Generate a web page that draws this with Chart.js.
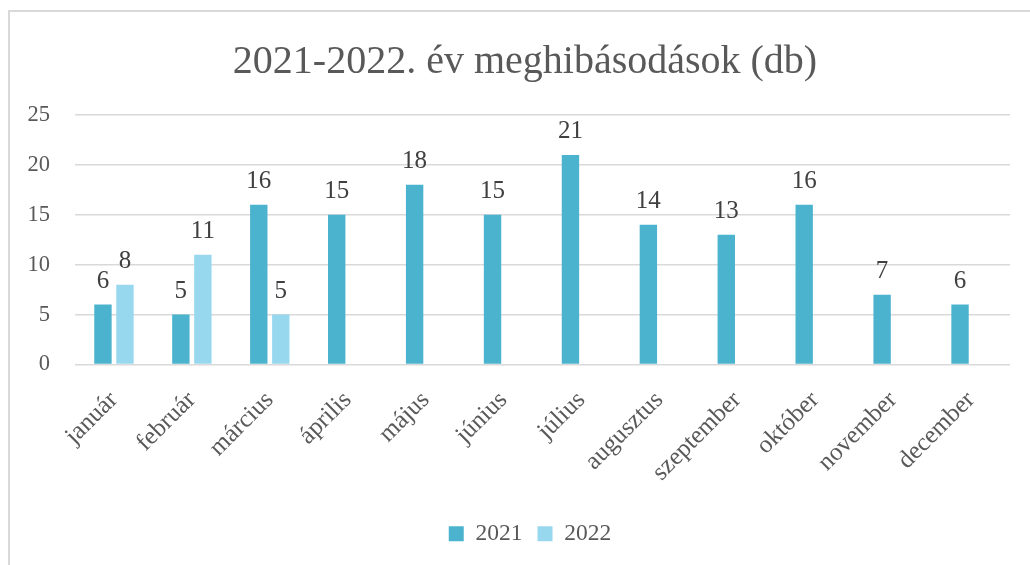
<!DOCTYPE html>
<html>
<head>
<meta charset="utf-8">
<script src="https://cdn.jsdelivr.net/npm/chart.js@4.4.0/dist/chart.umd.min.js"></script>
<style>
  html, body { margin: 0; padding: 0; background: #ffffff; }
  body { width: 1030px; height: 565px; position: relative; overflow: hidden; }
  #frame { position: absolute; left: 8px; top: 10px; width: 1040px; height: 600px;
           border-left: 2px solid #d9d9d9; border-top: 2px solid #d9d9d9; box-sizing: border-box; }
  canvas { position: absolute; left: 0; top: 0; }
</style>
</head>
<body>
<div id="frame"></div>
<canvas id="c" width="1030" height="565"></canvas>
<script>
const categories = ['január', 'február', 'március', 'április', 'május', 'június', 'július', 'augusztus', 'szeptember', 'október', 'november', 'december'];
const series2021 = [6, 5, 16, 15, 18, 15, 21, 14, 13, 16, 7, 6];
const series2022 = [8, 11, 5, null, null, null, null, null, null, null, null, null];
const seriesNames = ['2021', '2022'];
const yTicks = [0, 5, 10, 15, 20, 25];
const titleText = '2021-2022. év meghibásodások (db)';

const FONT = "'Liberation Serif', 'Times New Roman', serif";
const TEXT = '#595959';

const valueLabels = {
  id: 'valueLabels',
  afterDatasetsDraw(chart) {
    const ctx = chart.ctx;
    ctx.save();
    ctx.font = "25px " + FONT;
    ctx.fillStyle = '#404040';
    ctx.textAlign = 'center';
    ctx.textBaseline = 'alphabetic';
    chart.data.datasets.forEach((ds, di) => {
      const meta = chart.getDatasetMeta(di);
      meta.data.forEach((bar, i) => {
        const v = ds.data[i];
        if (v === null || v === undefined) return;
        ctx.fillText(String(v), bar.x, bar.y - 17);
      });
    });
    ctx.restore();
  }
};

// centre title and legend on the outer frame rather than the canvas
const recenter = {
  id: 'recenter',
  afterLayout(chart) {
    if (chart.titleBlock) { chart.titleBlock.left = 40; chart.titleBlock.right = 1010; }
    if (chart.legend) { chart.legend.left = 50; chart.legend.right = 1010; }
  }
};

new Chart(document.getElementById('c'), {
  type: 'bar',
  data: {
    labels: categories,
    datasets: [
      { label: seriesNames[0], data: series2021, backgroundColor: '#4bb3ce',
        categoryPercentage: 0.565, barPercentage: 0.79 },
      { label: seriesNames[1], data: series2022, backgroundColor: '#98d8ef',
        categoryPercentage: 0.565, barPercentage: 0.79 }
    ]
  },
  options: {
    responsive: false,
    animation: false,
    devicePixelRatio: 1,
    layout: { padding: { left: 0, right: 20, top: 0, bottom: 9.5 } },
    plugins: {
      title: {
        display: true, text: titleText, color: TEXT,
        font: { family: FONT, size: 40, weight: 'normal' },
        padding: { top: 38.6, bottom: 28.4 }
      },
      legend: {
        position: 'bottom',
        labels: {
          color: TEXT, boxWidth: 15, boxHeight: 15, padding: 15,
          font: { family: FONT, size: 23.5 }
        }
      },
      tooltip: { enabled: false }
    },
    scales: {
      x: {
        grid: { display: false, drawTicks: false },
        border: { display: false },
        ticks: {
          color: TEXT, font: { family: FONT, size: 25 },
          maxRotation: 45, minRotation: 45, padding: 21, autoSkip: false
        },
        afterFit(scale) { scale.height = 142.5; }
      },
      y: {
        min: 0, max: 25,
        afterBuildTicks(scale) { scale.ticks = yTicks.map(v => ({ value: v })); },
        grid: { color: '#d9d9d9', lineWidth: 1.5, drawTicks: false },
        border: { display: false },
        ticks: {
          color: TEXT, font: { family: FONT, size: 22.5 }, padding: 25
        },
        afterFit(scale) { scale.width = 75; }
      }
    }
  },
  plugins: [valueLabels, recenter]
});
</script>
</body>
</html>
